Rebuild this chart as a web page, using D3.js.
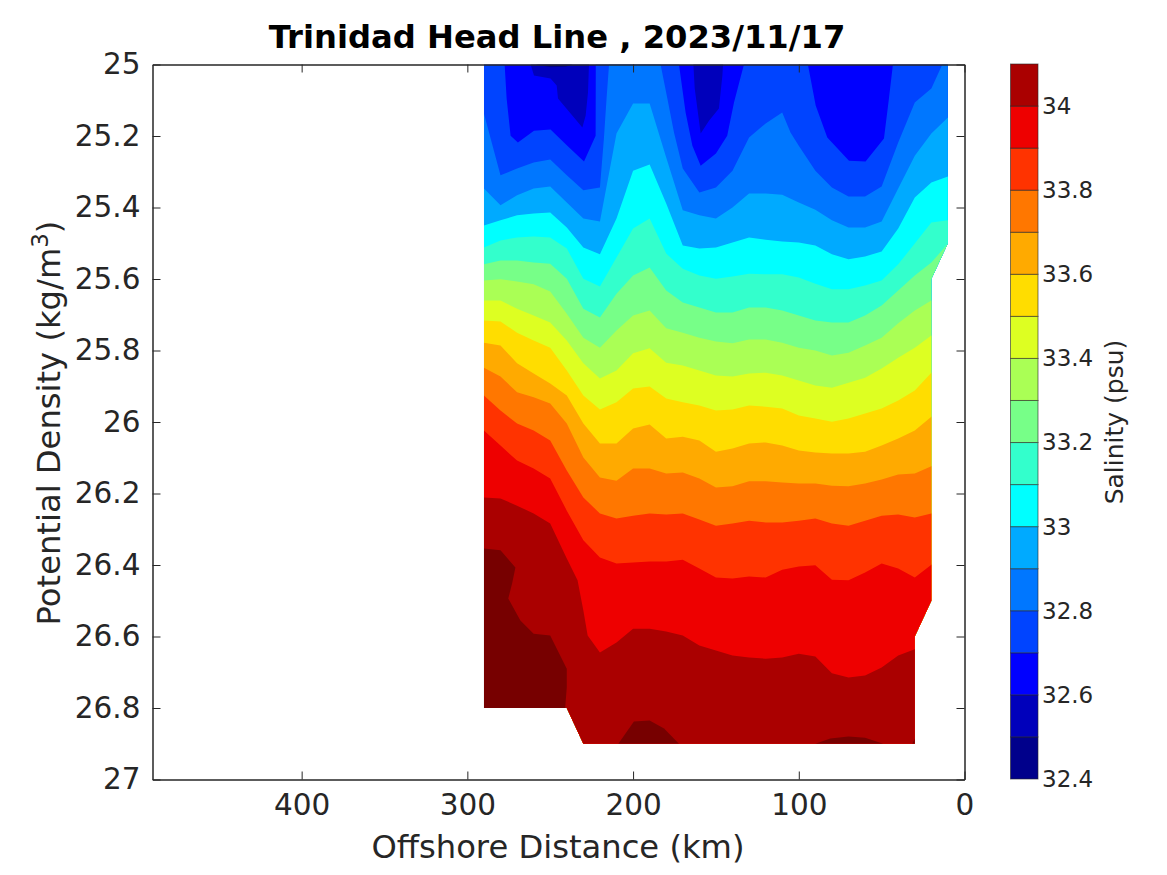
<!DOCTYPE html>
<html><head><meta charset="utf-8">
<script src="https://cdn.jsdelivr.net/npm/d3@7"></script>
<style>html,body{margin:0;background:#fff}svg{display:block}text{font-family:"DejaVu Sans";fill:#262626}</style>
</head><body><svg id="c" width="1167" height="875"></svg>
<script>
// Station distances (km) used by the single-valued salinity contours
const stations=[290,280,270,260,250,240,230,220,210,200,190,180,170,160,150,140,130,120,110,100,90,80,70,60,50,40,30,20,10];
// Density (kg/m3) of each isohaline at each station
const sal329=[25.347,25.394,25.366,25.347,25.341,25.386,25.431,25.439,25.193,25.109,25.109,25.260,25.408,25.422,25.431,25.400,25.361,25.361,25.364,25.386,25.406,25.436,25.456,25.456,25.439,25.347,25.255,25.193,25.148];
const sal330=[25.450,25.436,25.422,25.417,25.414,25.456,25.512,25.531,25.431,25.297,25.280,25.389,25.506,25.515,25.512,25.498,25.484,25.490,25.495,25.498,25.506,25.531,25.545,25.537,25.523,25.459,25.372,25.330,25.313];
const sal331=[25.512,25.492,25.484,25.481,25.484,25.515,25.599,25.621,25.540,25.459,25.431,25.529,25.571,25.590,25.599,25.593,25.585,25.587,25.587,25.596,25.613,25.629,25.629,25.618,25.604,25.559,25.501,25.442,25.436];
const sal332=[25.559,25.548,25.548,25.554,25.557,25.599,25.683,25.708,25.641,25.590,25.568,25.632,25.666,25.680,25.694,25.694,25.680,25.680,25.688,25.702,25.716,25.722,25.722,25.702,25.674,25.632,25.590,25.554,25.501];
const sal333=[25.604,25.601,25.607,25.615,25.635,25.697,25.764,25.792,25.744,25.702,25.688,25.738,25.750,25.764,25.775,25.780,25.769,25.769,25.778,25.792,25.800,25.814,25.806,25.786,25.764,25.724,25.688,25.660,25.632];
const sal334=[25.660,25.660,25.683,25.702,25.722,25.772,25.836,25.878,25.856,25.808,25.794,25.834,25.842,25.856,25.870,25.873,25.864,25.862,25.870,25.884,25.898,25.904,25.890,25.876,25.850,25.820,25.792,25.758,25.730];
const sal335=[25.716,25.719,25.750,25.772,25.792,25.856,25.926,25.965,25.945,25.906,25.901,25.934,25.945,25.954,25.968,25.965,25.954,25.957,25.962,25.982,25.990,25.999,25.990,25.976,25.962,25.940,25.912,25.862,25.842];
const sal336=[25.778,25.786,25.836,25.864,25.892,25.926,26.004,26.060,26.060,26.018,26.007,26.046,26.041,26.052,26.083,26.074,26.060,26.057,26.066,26.080,26.085,26.088,26.088,26.083,26.066,26.046,26.024,25.985,25.968];
const sal337=[25.848,25.873,25.917,25.931,25.948,26.004,26.099,26.155,26.164,26.130,26.130,26.144,26.141,26.158,26.183,26.180,26.166,26.166,26.169,26.172,26.172,26.178,26.180,26.172,26.161,26.147,26.144,26.124,26.108];
const sal338=[25.926,25.968,26.004,26.024,26.052,26.136,26.211,26.256,26.270,26.262,26.256,26.259,26.256,26.273,26.290,26.284,26.276,26.281,26.281,26.276,26.270,26.284,26.290,26.276,26.262,26.259,26.267,26.256,26.248];
const sal339=[26.024,26.066,26.108,26.130,26.158,26.248,26.331,26.379,26.396,26.393,26.390,26.390,26.385,26.410,26.435,26.438,26.432,26.435,26.413,26.404,26.401,26.441,26.443,26.421,26.396,26.410,26.435,26.399,26.373];
// Contours with vertices between stations: [km, density] vertices
const sal340=[[290,26.211],[280,26.214],[270,26.234],[260,26.256],[250,26.284],[240,26.382],[233.5,26.443],[230,26.527],[227.4,26.597],[220,26.645],[210,26.617],[200,26.578],[190,26.578],[180,26.586],[170,26.597],[160,26.625],[150,26.639],[140,26.653],[130,26.659],[120,26.662],[110,26.659],[100,26.648],[90,26.656],[80,26.703],[70,26.715],[60,26.709],[50,26.687],[40,26.653],[30,26.636],[20,26.611],[10,26.583]];
const sal328=[[290,25.137],[280,25.310],[270,25.291],[260,25.274],[250,25.266],[240,25.310],[230,25.352],[220,25.344],[217.6,25.207],[216,25.095],[214.5,25],[183.4,25],[179.3,25.095],[175.3,25.190],[170,25.291],[160,25.358],[150,25.344],[140,25.297],[130,25.204],[120,25.165],[110,25.134],[105,25.190],[100,25.227],[90,25.297],[80,25.344],[70,25.369],[60,25.369],[50,25.341],[40,25.218],[30,25.106],[20,25.067],[13.4,25],[10,25]];
const sal327=[[290,25],[277.5,25],[276.3,25.095],[273.9,25.199],[269.5,25.218],[259.8,25.185],[249.8,25.182],[239.7,25.227],[229.6,25.271],[222.6,25.199],[222.5,25],[172.3,25],[168.3,25.134],[164.2,25.227],[159.2,25.283],[150,25.249],[143.2,25.199],[139.1,25.106],[133.1,25],[94.5,25],[89.8,25.115],[82.8,25.204],[69.7,25.269],[59.7,25.271],[48.6,25.207],[45.6,25.095],[43.2,25],[10,25]];
const sal326a=[[261.8,25],[259.8,25.031],[249.8,25.039],[246.1,25.059],[245.3,25.095],[230.6,25.176],[228.6,25.143],[227.2,25.078],[226.6,25]];
const sal326b=[[163.6,25],[162.8,25.067],[159.2,25.193],[154.2,25.157],[148.2,25.123],[146.1,25.031],[145.7,25]];
const sal325=[[258.8,25],[249.8,25.008],[240.7,25.006],[236.5,25]];
const sal341a=[[290,26.354],[280,26.359],[271,26.407],[273,26.452],[275.3,26.494],[268,26.555],[260,26.592],[250,26.597],[240,26.690],[240,26.743],[241,26.8],[290,26.8]];
const sal341b=[[208.9,26.9],[199.5,26.838],[190,26.835],[181.3,26.857],[172.3,26.9]];
const sal341c=[[90,26.9],[81,26.885],[70,26.880],[60,26.883],[49,26.9]];
const sal341d=[[31.5,26.9],[30,26.885],[30,26.9]];
// Section outline
const sectionEdge=[[290,25],[10,25],[10,25.5],[20,25.6],[20,26.5],[30,26.6],[30,26.9],[230,26.9],[240,26.8],[290,26.8]];
// Colours of the filled bands, lowest salinity first
const bandLevels=[32.4,32.5,32.6,32.7,32.8,32.9,33.0,33.1,33.2,33.3,33.4,33.5,33.6,33.7,33.8,33.9,34.0];
const bandColors=["#00008b","#0000bb","#0000ff","#0044ff","#0077ff","#00aaff","#00ffff","#33ffcc","#77ff88","#aaff55","#ddff22","#ffdd00","#ffaa00","#ff7700","#ff3300","#ee0000","#aa0000"];
const topColor="#770000";
const xTicks=[400,300,200,100,0];
const yTicks=[25,25.2,25.4,25.6,25.8,26,26.2,26.4,26.6,26.8,27];
const cbTicks=[32.4,32.6,32.8,33,33.2,33.4,33.6,33.8,34];

const svg=d3.select("#c");
const L=152.5,R=964.5,T=64.5,B=779.5;
const x=d3.scaleLinear().domain([490,0]).range([L,R]);
const y=d3.scaleLinear().domain([25,27]).range([T,B]);
const color=d3.scaleOrdinal().domain(bandLevels).range(bandColors);
const pts=a=>stations.map((k,i)=>[k,a[i]]);
const area=d3.area().x(d=>x(d[0])).y0(y(27)).y1(d=>y(d[1]));
const poly=d3.line().x(d=>x(d[0])).y(d=>y(d[1]));

svg.append("defs").append("clipPath").attr("id","sec").append("path").attr("d",poly(sectionEdge)+"Z");
const g=svg.append("g").attr("clip-path","url(#sec)");
g.append("path").attr("d",poly(sectionEdge)+"Z").attr("fill",color(32.6));
[[32.7,sal327],[32.8,sal328],[32.9,pts(sal329)],[33.0,pts(sal330)],[33.1,pts(sal331)],[33.2,pts(sal332)],[33.3,pts(sal333)],[33.4,pts(sal334)],[33.5,pts(sal335)],[33.6,pts(sal336)],[33.7,pts(sal337)],[33.8,pts(sal338)],[33.9,pts(sal339)],[34.0,sal340]]
 .forEach(([lv,d])=>g.append("path").attr("d",area(d)).attr("fill",color(lv)));
[[32.5,sal326a],[32.5,sal326b],[32.4,sal325]].forEach(([lv,d])=>g.append("path").attr("d",poly(d)+"Z").attr("fill",color(lv)));
[sal341a,sal341b,sal341c,sal341d].forEach(d=>g.append("path").attr("d",poly(d)+"Z").attr("fill",topColor));

const ink="#262626",tickFont=29.5;
function style(a,size){a.selectAll(".domain").attr("stroke",ink).attr("stroke-width",1.5);a.selectAll(".tick line").attr("stroke",ink).attr("stroke-width",1);a.selectAll("text").attr("font-size",size).attr("fill",ink).style("font-family",'"DejaVu Sans"');}
const fmt=d=>String(d);
style(svg.append("g").attr("transform",`translate(0,${B})`).call(d3.axisBottom(x).tickValues(xTicks).tickFormat(fmt).tickSizeInner(-8).tickSizeOuter(0).tickPadding(15)),tickFont);
style(svg.append("g").attr("transform",`translate(${L},0)`).call(d3.axisLeft(y).tickValues(yTicks).tickFormat(fmt).tickSizeInner(-8).tickSizeOuter(0).tickPadding(12)),tickFont);
style(svg.append("g").attr("transform",`translate(0,${T})`).call(d3.axisTop(x).tickValues(xTicks).tickFormat("").tickSizeInner(-8).tickSizeOuter(0)),tickFont);
style(svg.append("g").attr("transform",`translate(${R},0)`).call(d3.axisRight(y).tickValues(yTicks).tickFormat("").tickSizeInner(-8).tickSizeOuter(0)),tickFont);

// colour bar
const cbY=d3.scaleLinear().domain([32.4,34.1]).range([779,64]);
const cb=svg.append("g");
cb.selectAll("rect").data(bandLevels).join("rect")
 .attr("x",1010.5).attr("width",27.5).attr("y",d=>cbY(d+0.1)).attr("height",d=>cbY(d)-cbY(d+0.1))
 .attr("fill",d=>color(d)).attr("stroke","#262626").attr("stroke-opacity",0.6).attr("stroke-width",1);
const cbAxis=svg.append("g").attr("transform","translate(1038,0)").call(d3.axisRight(cbY).tickValues(cbTicks).tickFormat(fmt).tickSize(0).tickPadding(4));
cbAxis.select(".domain").remove();
cbAxis.selectAll("text").attr("font-size",23).attr("fill",ink).style("font-family",'"DejaVu Sans"');

// text
svg.append("text").attr("x",557).attr("y",48).attr("text-anchor","middle").attr("font-size",32.2).attr("font-weight","bold").style("fill","#000").text("Trinidad Head Line , 2023/11/17");
svg.append("text").attr("x",558).attr("y",858).attr("text-anchor","middle").attr("font-size",32.2).text("Offshore Distance (km)");
const yl=svg.append("text").attr("transform","translate(60,423) rotate(-90)").attr("text-anchor","middle").attr("font-size",32.2);
yl.append("tspan").text("Potential Density (kg/m");
yl.append("tspan").attr("font-size",23).attr("dy",-12).text("3");
yl.append("tspan").attr("dy",12).text(")");
svg.append("text").attr("transform","translate(1123,422) rotate(-90)").attr("text-anchor","middle").attr("font-size",25).text("Salinity (psu)");
</script></body></html>
